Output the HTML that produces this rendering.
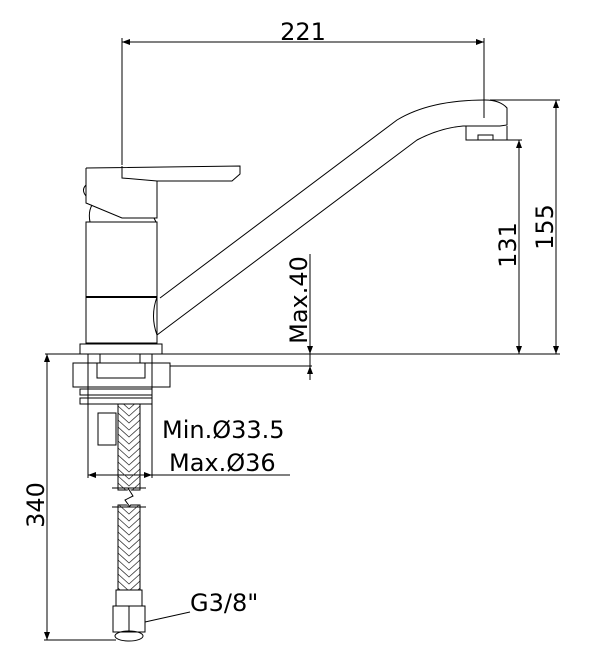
<!DOCTYPE html>
<html><head><style>body{margin:0;background:#fff}svg{display:block}text{font-family:"DejaVu Sans","Liberation Sans",sans-serif;fill:#000}</style></head><body>
<svg width="600" height="667" viewBox="0 0 600 667" xmlns="http://www.w3.org/2000/svg">
<defs>
<marker id="a" markerWidth="8" markerHeight="6" refX="8" refY="3" orient="auto-start-reverse" markerUnits="userSpaceOnUse"><path d="M0,0 L8,3 L0,6 Z" fill="#000"/></marker>
<pattern id="h" width="22" height="14" patternUnits="userSpaceOnUse" x="118" y="404"><path d="M0,2 L11,12 L22,2 M0,-5 L11,5 L22,-5 M0,9 L11,19 L22,9" stroke="#333" stroke-width="0.8" fill="none"/></pattern>
</defs>
<g fill="none" stroke="#000" stroke-width="1">
<line x1="122" y1="42" x2="484" y2="42" marker-start="url(#a)" marker-end="url(#a)"/>
<line x1="122" y1="38" x2="122" y2="165"/>
<line x1="484" y1="38" x2="484" y2="118"/>
<path d="M160,298 L397,120 Q430,100 485,100 Q500,100 507,108 L507,125 L500,126"/>
<path d="M157,335 L417,140 Q440,128 463,126 L500,126"/>
<path d="M466,126 L466,140 L507,140 L507,126 M478,140 L478,135 L493,135 L493,140"/>
<rect x="86" y="222" width="71" height="121"/>
<line x1="86" y1="297" x2="157" y2="297" stroke-width="2"/>
<path d="M157,297 Q150,316 157,335"/>
<rect x="80" y="344" width="82" height="10"/>
<path d="M86,168 L86,203 L122,218 L157,218 L157,181"/>
<path d="M86,168 L240,166 L240,174 L232,181 L157,181 L122,178 L122,166"/>
<path d="M92,205 Q88,212 90,222 M154,218 L156,222"/>
<path d="M86,185 Q81,190 86,196"/>
<rect x="73" y="363" width="97" height="24"/>
<rect x="97" y="363" width="48" height="15"/>
<rect x="100" y="354" width="40" height="9"/>
<rect x="80" y="389" width="72" height="6"/>
<rect x="80" y="398" width="72" height="6"/>
<rect x="98" y="413" width="18" height="32"/>
<line x1="88" y1="354" x2="88" y2="478"/>
<line x1="152" y1="354" x2="152" y2="478"/>
<line x1="88" y1="475" x2="290" y2="475" marker-start="url(#a)"/>
<line x1="140" y1="475" x2="152" y2="475" marker-end="url(#a)"/>
<rect x="118" y="404" width="22" height="86" fill="url(#h)"/>
<rect x="118" y="505" width="22" height="85" fill="url(#h)"/>
<path d="M112,488 L146,488 M112,507 L146,507" />
<path d="M128,490 L133,496 L125,500 L130,505" stroke="#fff" stroke-width="4"/>
<path d="M128,488 L133,496 L125,500 L130,507"/>
<rect x="116" y="590" width="26" height="16"/>
<rect x="113" y="606" width="32" height="26"/>
<ellipse cx="129" cy="636" rx="14" ry="5"/>
<line x1="129" y1="606" x2="129" y2="632"/>
<line x1="145" y1="622" x2="190" y2="612"/>
<line x1="45" y1="354" x2="80" y2="354"/>
<line x1="162" y1="354" x2="560" y2="354"/>
<line x1="170" y1="366" x2="312" y2="366"/>
<line x1="310" y1="254" x2="310" y2="380"/>
<line x1="310" y1="340" x2="310" y2="354" marker-end="url(#a)"/>
<line x1="310" y1="380" x2="310" y2="366" marker-end="url(#a)"/>
<line x1="500" y1="140" x2="522" y2="140"/>
<line x1="490" y1="100" x2="560" y2="100"/>
<line x1="519" y1="140" x2="519" y2="354" marker-start="url(#a)" marker-end="url(#a)"/>
<line x1="556" y1="100" x2="556" y2="354" marker-start="url(#a)" marker-end="url(#a)"/>
<line x1="47" y1="354" x2="47" y2="640" marker-start="url(#a)" marker-end="url(#a)"/>
<line x1="44" y1="640" x2="116" y2="640"/>
</g>
<g font-size="24">
<text x="303" y="40" text-anchor="middle">221</text>
<text transform="translate(307,300) rotate(-90)" text-anchor="middle">Max.40</text>
<text transform="translate(516,245) rotate(-90)" text-anchor="middle">131</text>
<text transform="translate(553,227) rotate(-90)" text-anchor="middle">155</text>
<text transform="translate(44,505) rotate(-90)" text-anchor="middle">340</text>
<text x="162" y="438">Min.Ø33.5</text>
<text x="169" y="471">Max.Ø36</text>
<text x="190" y="611">G3/8"</text>
</g>
</svg>
</body></html>
